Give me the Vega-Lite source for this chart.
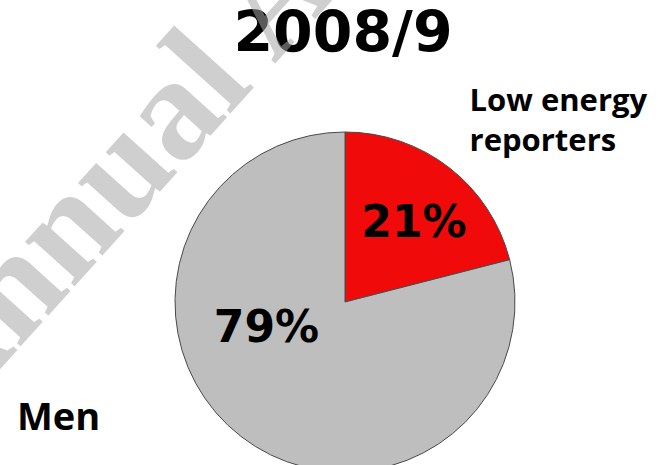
{
  "$schema": "https://vega.github.io/schema/vega-lite/v6.json",
  "width": 626,
  "height": 326,
  "autosize": "none",
  "padding": {"left": 32, "top": 139, "right": 0, "bottom": 0},
  "background": "white",
  "config": {"view": {"stroke": null}},
  "data": {"values": [
    {"category": "Low energy reporters", "name": "Low energy\nreporters", "percent": 21, "label": "21%", "rank": 1},
    {"category": "Other", "name": "Other", "percent": 79, "label": "79%", "rank": 2}
  ]},
  "layer": [
    {
      "mark": {"type": "arc", "radius": 170, "stroke": "#4a4a4a", "strokeWidth": 1},
      "encoding": {
        "theta": {"field": "percent", "type": "quantitative", "stack": true},
        "order": {"field": "rank", "type": "quantitative"},
        "color": {"field": "category", "type": "nominal", "scale": {"domain": ["Low energy reporters", "Other"], "range": ["#f00a0a", "#bebebe"]}, "legend": null}
      }
    },
    {
      "mark": {"type": "text", "radius": 106, "dx": 4, "dy": 19, "font": "DejaVu Sans", "fontWeight": "bold", "fontSize": 44, "align": "center", "baseline": "alphabetic", "color": "black"},
      "encoding": {
        "theta": {"field": "percent", "type": "quantitative", "stack": true},
        "order": {"field": "rank", "type": "quantitative"},
        "text": {"condition": {"test": "datum.rank == 1", "field": "label"}, "value": ""}
      }
    },
    {
      "mark": {"type": "text", "radius": 40, "dx": -54, "dy": 8, "font": "DejaVu Sans", "fontWeight": "bold", "fontSize": 44, "align": "center", "baseline": "alphabetic", "color": "black"},
      "encoding": {
        "theta": {"field": "percent", "type": "quantitative", "stack": true},
        "order": {"field": "rank", "type": "quantitative"},
        "text": {"condition": {"test": "datum.rank == 2", "field": "label"}, "value": ""}
      }
    },
    {
      "mark": {"type": "text", "radius": 200, "dx": 2, "dy": -33, "font": "Open Sans", "fontWeight": "bold", "fontSize": 31, "align": "left", "baseline": "alphabetic", "lineBreak": "\n", "lineHeight": 40, "color": "black"},
      "encoding": {
        "theta": {"field": "percent", "type": "quantitative", "stack": true},
        "order": {"field": "rank", "type": "quantitative"},
        "text": {"condition": {"test": "datum.rank == 1", "field": "name"}, "value": ""}
      }
    },
    {
      "data": {"values": [{"t": "2008/9"}]},
      "mark": {"type": "text", "font": "DejaVu Sans", "fontWeight": "bold", "fontSize": 57, "align": "center", "baseline": "alphabetic", "color": "black"},
      "encoding": {
        "text": {"field": "t"},
        "x": {"value": 311},
        "y": {"value": -87}
      }
    },
    {
      "data": {"values": [{"t": "Men"}]},
      "mark": {"type": "text", "font": "Open Sans", "fontWeight": "bold", "fontSize": 38, "align": "left", "baseline": "alphabetic", "color": "black"},
      "encoding": {
        "text": {"field": "t"},
        "x": {"value": -15},
        "y": {"value": 291}
      }
    },
    {
      "data": {"values": [{"t": "Annual Abstract"}]},
      "mark": {"type": "text", "font": "Liberation Serif", "fontWeight": "bold", "fontSize": 145, "align": "left", "baseline": "alphabetic", "angle": -48, "color": "#a7a7a7", "opacity": 0.54},
      "encoding": {
        "text": {"field": "t"},
        "x": {"value": -84},
        "y": {"value": 288}
      }
    }
  ]
}
